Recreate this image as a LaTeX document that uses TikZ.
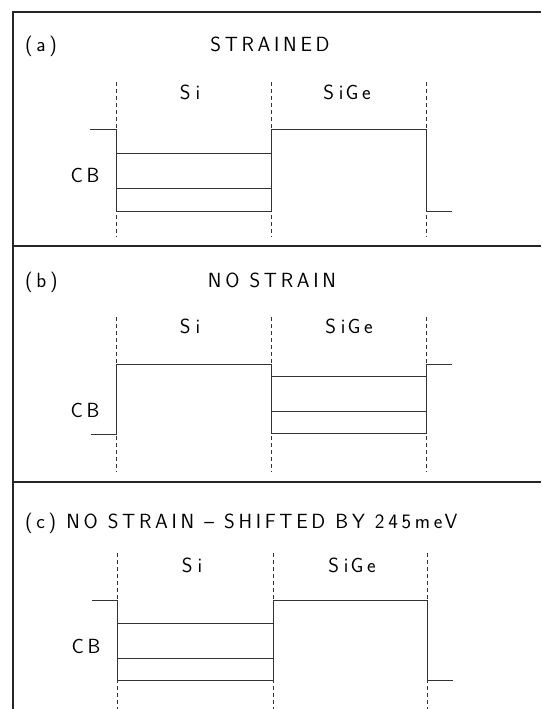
\documentclass[tikz,border=0pt]{standalone}
\usepackage{fontspec}
\newfontfamily\plotfont[LetterSpace=18]{Latin Modern Sans}
\usetikzlibrary{positioning}
\tikzset{
  frame/.style={line width=1.2pt,draw=black!85},
  level/.style={line width=0.9pt,draw=black!80},
  guide/.style={line width=0.8pt,draw=black!80,dash pattern=on 4pt off 3pt},
  lbl/.style={font=\plotfont\fontsize{20.5}{22}\selectfont,inner sep=0pt,anchor=base},
  tag/.style={lbl,anchor=base west},
}

\begin{document}
\begin{tikzpicture}[x=1pt,y=-1pt]
  \useasboundingbox (0,0) rectangle (541,709);

  % frame and panel separators
  \draw[frame] (13,709) -- (13,12) -- (541,12);
  \draw[frame] (13,246) -- (541,246);
  \draw[frame] (13,482) -- (541,482);

  % (a) strained
  \node[tag] (taga) at (25,52) {(a)};
  \node[lbl] (titlea) at (270,52) {STRAINED};
  \node[lbl] (sia) at (190,99) {S\hspace{5pt}i};
  \node[lbl] (sigea) at (347,99) {S\hspace{5pt}i\hspace{2pt}Ge};
  \node[lbl] (cba) at (85,182) {CB};
  \draw[guide] (116,82) -- (116,237) (271,82) -- (271,237) (426,82) -- (426,237);
  \draw[level] (90,129) -- (116,129) -- (116,211) -- (271,211) -- (271,129)
    -- (426,129) -- (426,211) -- (452,211);
  \draw[level] (116,153) -- (271,153);
  \draw[level] (116,188) -- (271,188);

  % (b) no strain
  \node[tag] (tagb) at (25,287) {(b)};
  \node[lbl] (titleb) at (272,287) {NO STRAIN};
  \node[lbl] (sib) at (190,333) {S\hspace{5pt}i};
  \node[lbl] (sigeb) at (349,333) {S\hspace{5pt}i\hspace{2pt}Ge};
  \node[lbl] (cbb) at (85,417) {CB};
  \draw[guide] (116,317) -- (116,472) (271,317) -- (271,472) (426,317) -- (426,472);
  \draw[level] (91,434) -- (116,434) -- (116,364) -- (271,364) -- (271,433)
    -- (426,433) -- (426,364) -- (452,364);
  \draw[level] (271,376) -- (426,376);
  \draw[level] (271,411) -- (426,411);

  % (c) no strain, shifted
  \node[tag] (tagc) at (25,528) {(c) NO STRAIN – SHIFTED BY 245meV};
  \node[lbl] (sic) at (192,572) {S\hspace{5pt}i};
  \node[lbl] (sigec) at (352,572) {S\hspace{5pt}i\hspace{2pt}Ge};
  \node[lbl] (cbc) at (86,653) {CB};
  \draw[guide] (117.5,553) -- (117.5,709) (273,553) -- (273,709) (427.5,553) -- (427.5,709);
  \draw[level] (92,600) -- (117.5,600) -- (117.5,680) -- (273,680) -- (273,600)
    -- (427.5,600) -- (427.5,680) -- (453,680);
  \draw[level] (117.5,623) -- (273,623);
  \draw[level] (117.5,658) -- (273,658);
\end{tikzpicture}
\end{document}
